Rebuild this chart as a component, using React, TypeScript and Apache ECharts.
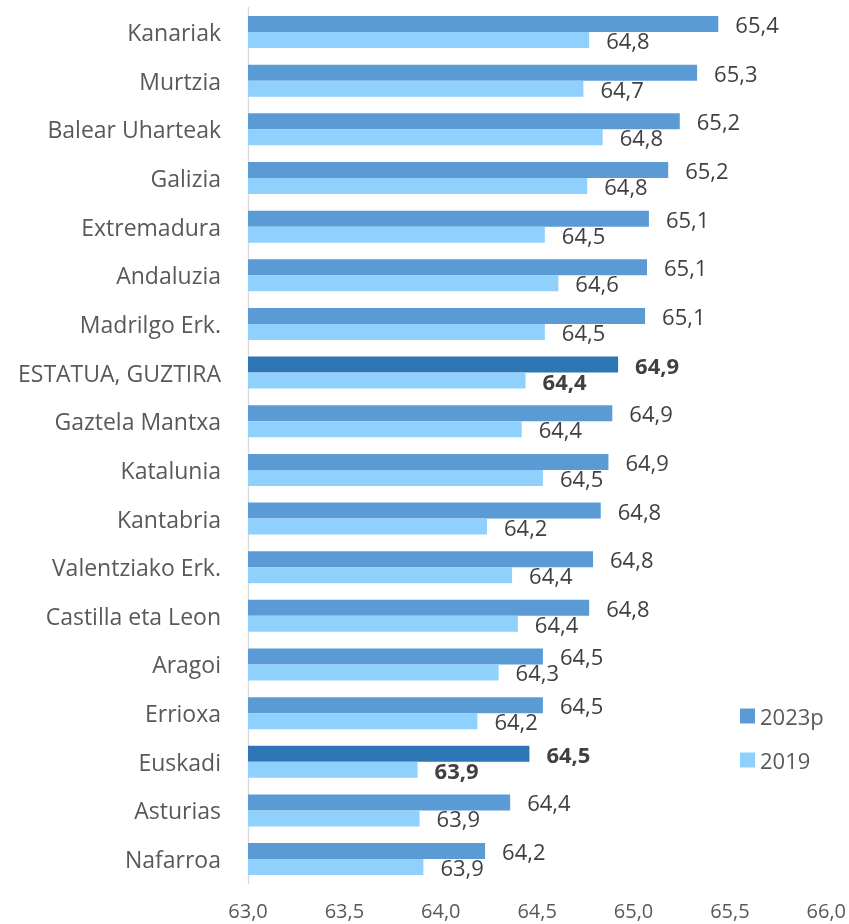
import React, { useEffect, useRef } from "react";
import * as echarts from "echarts";

const categories = [
  "Kanariak",
  "Murtzia",
  "Balear Uharteak",
  "Galizia",
  "Extremadura",
  "Andaluzia",
  "Madrilgo Erk.",
  "ESTATUA, GUZTIRA",
  "Gaztela Mantxa",
  "Katalunia",
  "Kantabria",
  "Valentziako Erk.",
  "Castilla eta Leon",
  "Aragoi",
  "Errioxa",
  "Euskadi",
  "Asturias",
  "Nafarroa",
];

const values2023p = [
  65.44, 65.33, 65.24, 65.18, 65.08, 65.07, 65.06, 64.92, 64.89, 64.87, 64.83,
  64.79, 64.77, 64.53, 64.53, 64.46, 64.36, 64.23,
];

const values2019 = [
  64.77, 64.74, 64.84, 64.76, 64.54, 64.61, 64.54, 64.44, 64.42, 64.53, 64.24,
  64.37, 64.4, 64.3, 64.19, 63.88, 63.89, 63.91,
];

const highlighted = ["ESTATUA, GUZTIRA", "Euskadi"];

const seriesNames = ["2023p", "2019"];

const FONT = "'Open Sans', 'Noto Sans', sans-serif";

const fmt = (v: number) => (Math.round(v * 10) / 10).toFixed(1).replace(".", ",");

export default function App() {
  const ref = useRef<HTMLDivElement>(null);

  useEffect(() => {
    if (!ref.current) return;
    const chart = echarts.init(ref.current, undefined, { renderer: "svg" });

    const colorMain = "#5B9BD5";
    const colorHi = "#2E75B6";
    const colorLight = "#8FD1FC";

    const data2023 = values2023p.map((v, i) => {
      const hi = highlighted.includes(categories[i]);
      return {
        value: v,
        itemStyle: { color: hi ? colorHi : colorMain },
        label: { fontWeight: hi ? "bold" : "normal" },
      };
    });
    const data2019 = values2019.map((v, i) => {
      const hi = highlighted.includes(categories[i]);
      return {
        value: v,
        label: { fontWeight: hi ? "bold" : "normal" },
      };
    });

    const labelCfg = {
      show: true,
      position: "right",
      distance: 17,
      fontFamily: FONT,
      fontSize: 22,
      color: "#404040",
      formatter: (p: any) => fmt(p.value),
    };

    chart.setOption({
      animation: false,
      textStyle: { fontFamily: FONT },
      grid: { left: 248, right: 22, top: 7.7, bottom: 40.6, containLabel: false },
      legend: {
        orient: "vertical",
        left: 735,
        top: 700,
        itemWidth: 15,
        itemHeight: 15,
        itemGap: 22,
        icon: "rect",
        textStyle: { fontFamily: FONT, fontSize: 22, color: "#595959" },
        data: [
          { name: seriesNames[0], itemStyle: { color: colorMain } },
          { name: seriesNames[1], itemStyle: { color: colorLight } },
        ],
      },
      xAxis: {
        type: "value",
        min: 63,
        max: 66,
        interval: 0.5,
        axisLine: { show: false },
        axisTick: { show: false },
        splitLine: { show: false },
        axisLabel: {
          fontFamily: FONT,
          fontSize: 20,
          color: "#595959",
          margin: 17,
          formatter: (v: number) => v.toFixed(1).replace(".", ","),
        },
      },
      yAxis: {
        type: "category",
        inverse: true,
        data: categories,
        axisLine: { show: true, lineStyle: { color: "#D9D9D9", width: 1.3 } },
        axisTick: { show: false },
        axisLabel: {
          fontFamily: FONT,
          fontSize: 23,
          color: "#595959",
          margin: 27,
        },
      },
      series: [
        {
          name: seriesNames[0],
          type: "bar",
          data: data2023,
          barWidth: 16,
          barGap: "0%",
          itemStyle: { color: colorMain },
          label: labelCfg,
        },
        {
          name: seriesNames[1],
          type: "bar",
          data: data2019,
          barWidth: 16,
          barGap: "0%",
          itemStyle: { color: colorLight },
          label: labelCfg,
        },
      ],
    });

    return () => chart.dispose();
  }, []);

  return (
    <div
      ref={ref}
      style={{ position: "fixed", left: 0, top: 0, width: 849, height: 924 }}
    />
  );
}
